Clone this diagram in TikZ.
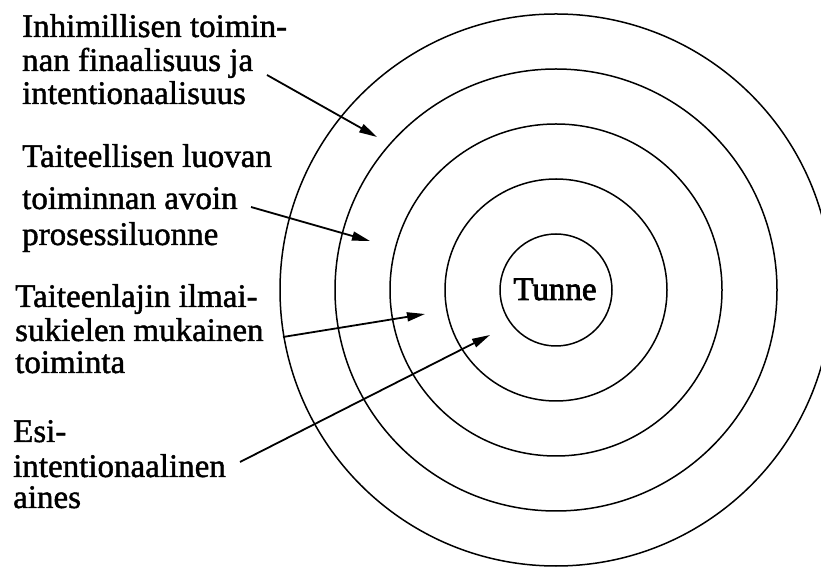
\documentclass[tikz,border=0pt]{standalone}
\usepackage{fontspec}
\setmainfont{Liberation Serif}
\newfontfamily\heavyfont{Liberation Serif}[BoldFont=Liberation Serif, BoldFeatures={FakeBold=1.3}]
\newfontfamily\heavierfont{Liberation Serif}[BoldFont=Liberation Serif, BoldFeatures={FakeBold=2.2}]
\usetikzlibrary{arrows.meta}
\tikzset{
  ring/.style={draw, line width=1.5pt},
  lbl/.style={anchor=base west, inner sep=0pt, font=\heavyfont\bfseries\fontsize{33}{38}\selectfont},
  pointer/.style={line width=1.8pt, -{Triangle[length=18pt,width=9pt]}}
}
\begin{document}
\begin{tikzpicture}[x=1pt,y=1pt]
\useasboundingbox (0,0) rectangle (821,567);
% rings
\coordinate (c) at (556,277);
\foreach \r in {56,111,166,221,276} \draw[ring] (c) circle (\r);
\node[lbl, anchor=base, font=\heavierfont\bfseries\fontsize{33}{38}\selectfont] (tunne) at (555,267) {Tunne};
% labels
\node[lbl] (l1a) at (22,530) {Inhimillisen toimin-};
\node[lbl] (l1b) at (22,496) {nan finaalisuus ja};
\node[lbl] (l1c) at (22,463) {intentionaalisuus};
\node[lbl] (l2a) at (22,400) {Taiteellisen luovan};
\node[lbl] (l2b) at (22,358) {toiminnan avoin};
\node[lbl] (l2c) at (22,322) {prosessiluonne};
\node[lbl] (l3a) at (15,260) {Taiteenlajin ilmai-};
\node[lbl] (l3b) at (15,226) {sukielen mukainen};
\node[lbl] (l3c) at (15,194) {toiminta};
\node[lbl] (l4a) at (13,125) {Esi-};
\node[lbl] (l4b) at (13,90) {intentionaalinen};
\node[lbl] (l4c) at (13,59) {aines};
% arrow ends
\coordinate (s1) at (267,492);
\coordinate (t1) at (377,430);
\coordinate (s2) at (251,360);
\coordinate (t2) at (370,326);
\coordinate (s3) at (283,230);
\coordinate (t3) at (425,253);
\coordinate (s4) at (240,105);
\coordinate (t4) at (490,232);
\draw[pointer] (s1) -- (t1);
\draw[pointer] (s2) -- (t2);
\draw[pointer] (s3) -- (t3);
\draw[pointer] (s4) -- (t4);
\end{tikzpicture}
\end{document}
